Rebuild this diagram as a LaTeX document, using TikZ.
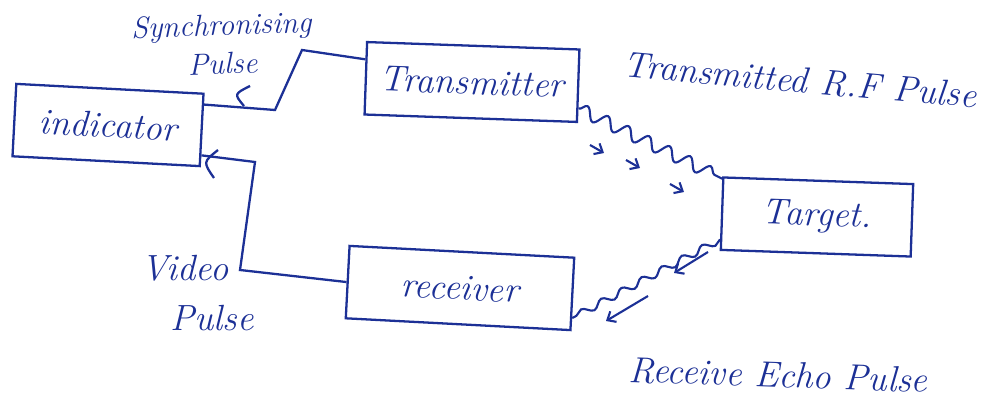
\documentclass[tikz,border=0pt]{standalone}
\usetikzlibrary{arrows.meta,decorations.pathmorphing}
\definecolor{ink}{RGB}{28,48,150}

\begin{document}
\begin{tikzpicture}[x=0.02cm,y=-0.02cm,
    lbl/.style={text=ink,font=\itshape\huge},
    blk/.style={draw=ink,line width=1.3pt,lbl,minimum height=1.45cm},
    wire/.style={draw=ink,line width=1.3pt},
    wave/.style={draw=ink,line width=1.2pt,decorate,decoration={snake,amplitude=3.5pt,segment length=13pt}},
    tick/.style={draw=ink,line width=1.2pt,-{Straight Barb[length=4pt,width=7pt]}}]
  \fill[white] (0,0) rectangle (998,405);
  \useasboundingbox (0,0) rectangle (998,405);
  % blocks
  \node[blk,minimum width=3.75cm,rotate=-3] (ind) at (108,125) {indicator};
  \node[blk,minimum width=4.25cm,rotate=-2] (tx) at (472,82) {Transmitter};
  \node[blk,minimum width=3.8cm,rotate=-2] (tgt) at (817,217) {Target.};
  \node[blk,minimum width=4.5cm,rotate=-3] (rx) at (460,288) {receiver};
  % synchronising pulse
  \coordinate (s1) at (275,110);
  \coordinate (s2) at (302,50);
  \draw[wire] (ind.15) -- (s1) -- (s2) -- (tx.170);
  \draw[wire] (250,86) .. controls (234,94) .. (244,106);
  \node[lbl,font=\itshape\LARGE,rotate=2,align=center,inner sep=1pt] (syn) at (222,44) {Synchronising\\Pulse};
  % video pulse
  \coordinate (v1) at (255,162);
  \coordinate (v2) at (240,270);
  \draw[wire] (ind.-15) -- (v1) -- (v2) -- (rx.west);
  \draw[wire] (218,150) .. controls (203,162) .. (214,178);
  \node[lbl] (vid) at (185,268) {Video};
  \node[lbl] (vidp) at (212,318) {Pulse};
  % transmitted pulse
  \draw[wave] (tx.-12) -- (tgt.160);
  \foreach \p in {(590,145),(626,160),(670,184)} \draw[tick] \p -- ++(14,8);
  \node[lbl,rotate=-5] (trp) at (800,80) {Transmitted R.F Pulse};
  % echo pulse
  \draw[wave,decoration={amplitude=2pt}] (tgt.-165) -- (rx.-12);
  \draw[tick] (708,252) -- (674,273);
  \draw[tick] (648,296) -- (606,321);
  \node[lbl,rotate=-2] (ech) at (778,375) {Receive Echo Pulse};
\end{tikzpicture}
\end{document}
